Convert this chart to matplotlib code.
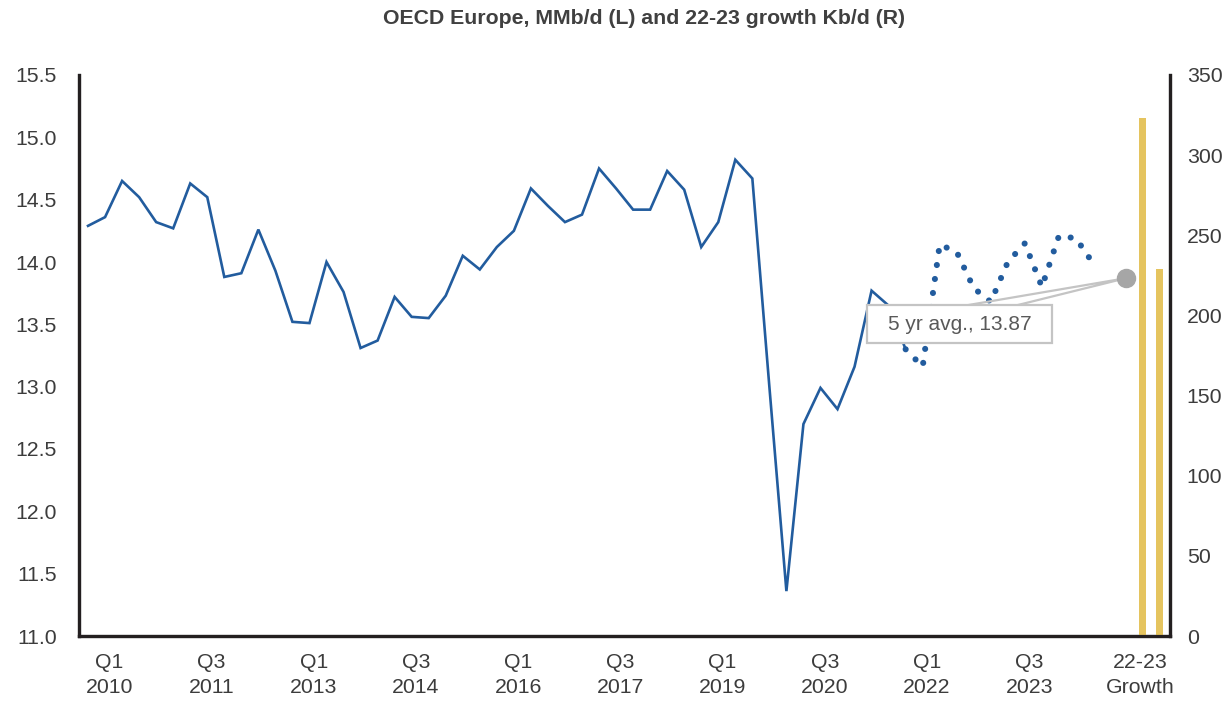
import numpy as np
import matplotlib.pyplot as plt
from matplotlib.patches import Polygon, Rectangle

plt.rcParams['font.family'] = ['Liberation Sans', 'DejaVu Sans']

# quarterly demand, MMb/d (history, solid), starting Q1 2010
hist = [14.29, 14.36, 14.65, 14.52, 14.32, 14.27, 14.63, 14.52,
        13.88, 13.91, 14.26, 13.93, 13.52, 13.51, 14.00, 13.76,
        13.31, 13.37, 13.72, 13.56, 13.55, 13.73, 14.05, 13.94,
        14.12, 14.25, 14.59, 14.45, 14.32, 14.38, 14.75, 14.59,
        14.42, 14.42, 14.73, 14.58, 14.12, 14.32, 14.82, 14.67,
        13.00, 11.36, 12.70, 12.99, 12.82, 13.16, 13.77, 13.65,
        13.30]
# forecast (dotted), continues from last history point
fcst = [13.30, 13.16, 14.14, 14.08, 13.79, 13.68, 14.00, 14.15,
        13.80, 14.21, 14.19, 13.99]
avg5 = 13.87
growth = [323, 229]          # Kb/d, right axis
tick_labels = ['Q1\n2010', 'Q3\n2011', 'Q1\n2013', 'Q3\n2014', 'Q1\n2016',
               'Q3\n2017', 'Q1\n2019', 'Q3\n2020', 'Q1\n2022', 'Q3\n2023']

blue = '#225c9e'
gold = '#e5c45f'
grey = '#a6a6a6'
txt = '#3c3c3c'

x_hist = np.arange(len(hist))
x_fcst = np.arange(len(fcst)) + len(hist) - 1
x_avg = x_fcst[-1] + 1.93
x_bars = x_fcst[-1] + np.array([2.9, 3.9])

fig = plt.figure(figsize=(12.29, 7.05), dpi=100)
ax = fig.add_axes([79 / 1229, 1 - 636 / 705, (1170 - 79) / 1229, (636 - 75) / 705])
ax2 = ax.twinx()

ax.plot(x_hist, hist, color=blue, lw=1.9, zorder=3, solid_joinstyle='miter')
ax.plot(x_fcst, fcst, color=blue, lw=4.4, linestyle=(0, (0.01, 2.3)),
        dash_capstyle='round', zorder=3)

ax2.bar(x_bars, growth, width=0.39, color=gold, zorder=2)

# 5 yr avg callout
bx0, bx1, by0, by1 = 45.74, 56.57, 13.35, 13.653
ax.add_patch(Polygon([(51.6, by1), (54.53, by1), (x_avg, avg5)], closed=True,
                     fc='none', ec='#c4c4c4', lw=1.6, zorder=4))
ax.add_patch(Rectangle((bx0, by0), bx1 - bx0, by1 - by0, fc='white',
                       ec='#c4c4c4', lw=1.6, zorder=5))
ax.text((bx0 + bx1) / 2, (by0 + by1) / 2, '5 yr avg., 13.87', ha='center',
        va='center', fontsize=15, color='#595959', zorder=6)
ax.plot([x_avg], [avg5], 'o', ms=13, color=grey, zorder=6)

ax.set_xlim(-0.53, 63.52)
ax.set_ylim(11.0, 15.5)
ax2.set_ylim(0, 350)

ticks = list(np.arange(0, 55, 6) + 1.25) + [x_fcst[-1] + 2.8]
ax.set_xticks(ticks)
ax.set_xticklabels(tick_labels + ['22-23\nGrowth'], linespacing=1.4)
ax.set_yticks(np.arange(11.0, 15.51, 0.5))
ax.set_yticklabels([f'{v:.1f}' for v in np.arange(11.0, 15.51, 0.5)])
ax2.set_yticks(range(0, 351, 50))

for a in (ax, ax2):
    a.tick_params(length=0, labelsize=15.3, colors=txt)
    a.spines['top'].set_visible(False)
    for s in ('left', 'right', 'bottom'):
        a.spines[s].set_linewidth(2.3)
        a.spines[s].set_color('#231f20')
ax.tick_params(axis='y', pad=16)
ax.tick_params(axis='x', pad=12)
ax2.tick_params(axis='y', pad=12)

fig.text(644 / 1229, 1 - 19 / 705, 'OECD Europe, MMb/d (L) and 22-23 growth Kb/d (R)',
         ha='center', va='center', fontsize=15.3, fontweight='bold', color='#404040')

fig.savefig('out.png', dpi=100)
